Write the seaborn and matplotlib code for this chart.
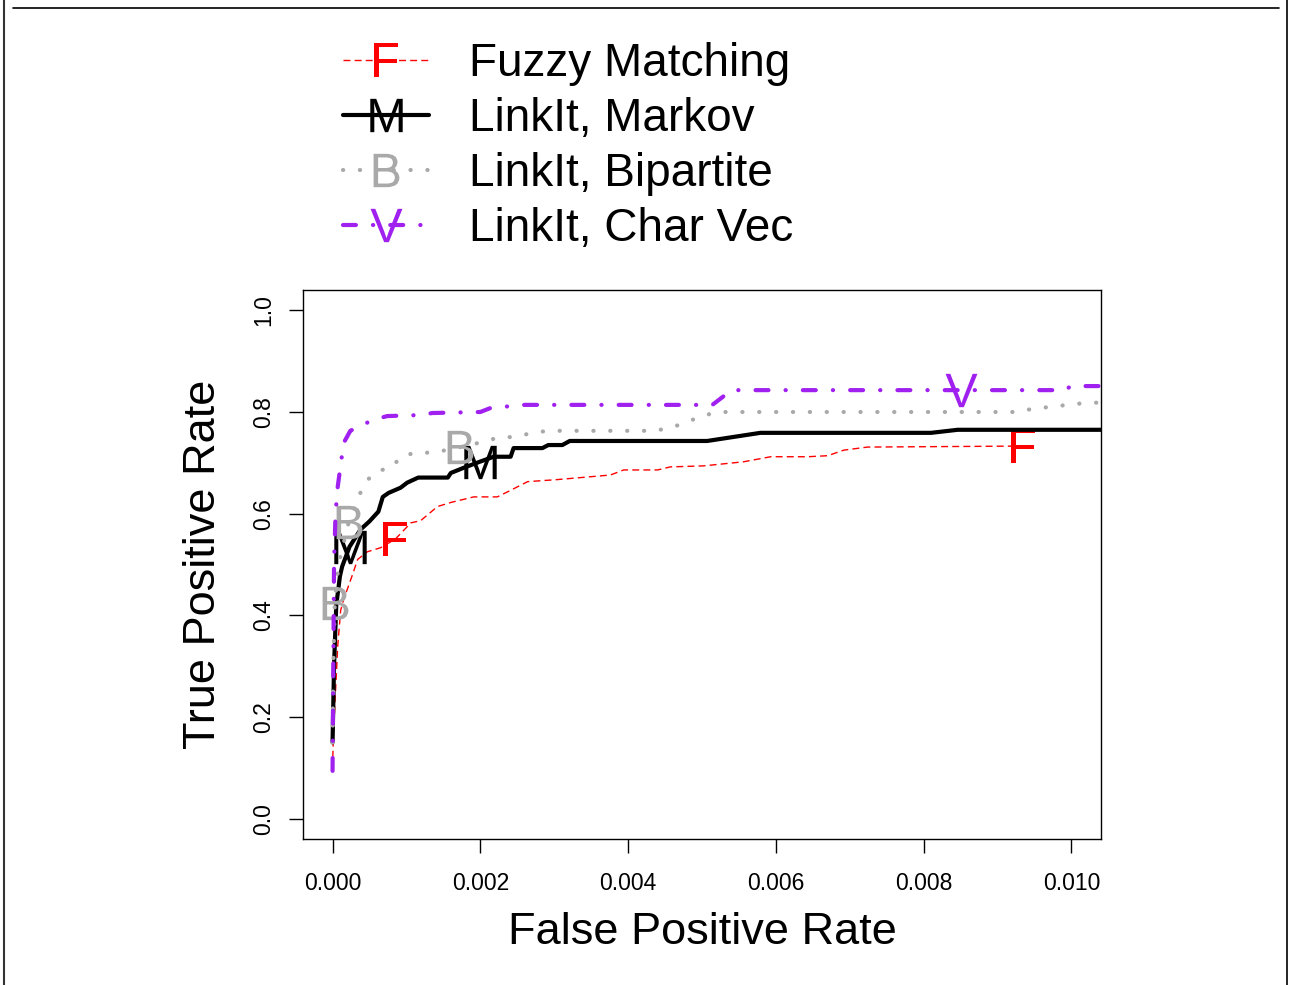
import matplotlib
matplotlib.use("Agg")
import matplotlib.pyplot as plt
from matplotlib.lines import Line2D
import pandas as pd
import seaborn as sns

# ROC curves (false positive rate, true positive rate)
fuzzy_fpr = [0.0, 0.00001, 0.00004, 0.00007, 0.00011, 0.00015, 0.00027, 0.00034, 0.00047, 0.00065,
             0.00085, 0.00106, 0.00119, 0.00142, 0.0016, 0.00191, 0.00223, 0.00237, 0.00264, 0.00304,
             0.00376, 0.00394, 0.0044, 0.00457, 0.00502, 0.00556, 0.00593, 0.00643, 0.0067, 0.00692,
             0.00724, 0.00934]
fuzzy_tpr = [0.098, 0.157, 0.25, 0.34, 0.41, 0.431, 0.48, 0.51, 0.525, 0.533,
             0.55, 0.582, 0.586, 0.614, 0.622, 0.633, 0.633, 0.643, 0.663, 0.667,
             0.676, 0.686, 0.686, 0.692, 0.694, 0.702, 0.712, 0.712, 0.714, 0.725,
             0.731, 0.733]
fuzzy_marks = [10, 31]

markov_fpr = [0.0, 0.00002, 0.00005, 0.0001, 0.00013, 0.00023, 0.00038, 0.0005, 0.00062, 0.00068,
              0.00076, 0.00092, 0.00101, 0.00116, 0.00156, 0.0016, 0.00177, 0.00199, 0.00218, 0.00241,
              0.00245, 0.00284, 0.00292, 0.00311, 0.00321, 0.00507, 0.00579, 0.0081, 0.00846, 0.011]
markov_tpr = [0.15, 0.3, 0.42, 0.477, 0.496, 0.535, 0.569, 0.585, 0.604, 0.633,
              0.641, 0.651, 0.661, 0.671, 0.671, 0.68, 0.69, 0.702, 0.712, 0.712,
              0.729, 0.729, 0.735, 0.735, 0.743, 0.743, 0.759, 0.759, 0.765, 0.765]
markov_marks = [5, 17]

bipartite_fpr = [0.0, 0.00001, 0.00003, 0.00008, 0.00022, 0.00035, 0.00045, 0.0006, 0.0008, 0.00092,
                 0.00112, 0.00137, 0.00173, 0.00203, 0.00225, 0.00248, 0.0027, 0.00292, 0.00434, 0.00456,
                 0.00479, 0.005, 0.00521, 0.00923, 0.00947, 0.00971, 0.00995, 0.0102, 0.011]
bipartite_tpr = [0.15, 0.3, 0.425, 0.5, 0.584, 0.633, 0.663, 0.684, 0.69, 0.712,
                 0.72, 0.72, 0.731, 0.741, 0.75, 0.751, 0.759, 0.763, 0.763, 0.768,
                 0.78, 0.792, 0.8, 0.8, 0.806, 0.81, 0.814, 0.818, 0.82]
bipartite_marks = [2, 4, 12]

charvec_fpr = [0.0, 0.00001, 0.00002, 0.00004, 0.00007, 0.00015, 0.00024, 0.00054, 0.00074, 0.0012,
               0.00135, 0.002, 0.00214, 0.0026, 0.00514, 0.0054, 0.0085, 0.0099, 0.0100, 0.011]
charvec_tpr = [0.094, 0.3, 0.5, 0.6, 0.653, 0.739, 0.763, 0.784, 0.792, 0.794,
               0.798, 0.8, 0.808, 0.814, 0.814, 0.843, 0.843, 0.843, 0.851, 0.851]
charvec_marks = [16]

labels = ["Fuzzy Matching", "LinkIt, Markov", "LinkIt, Bipartite", "LinkIt, Char Vec"]
letters = ["F", "M", "B", "V"]
colors = ["#FF0000", "#000000", "#A9A9A9", "#A020F0"]

x_ticks = [0.0, 0.002, 0.004, 0.006, 0.008, 0.010]
y_ticks = [0.0, 0.2, 0.4, 0.6, 0.8, 1.0]

sns.set_style("ticks")
plt.rcParams["font.family"] = ["Liberation Sans", "DejaVu Sans"]
plt.rcParams["mathtext.fontset"] = "custom"
plt.rcParams["mathtext.rm"] = "Liberation Sans"
plt.rcParams["text.color"] = "black"
plt.rcParams["axes.labelcolor"] = "black"

series = [
    (fuzzy_fpr, fuzzy_tpr, fuzzy_marks, dict(lw=1.0, dashes=(5, 3), dash_capstyle="butt")),
    (markov_fpr, markov_tpr, markov_marks, dict(lw=3.0, linestyle="-")),
    (bipartite_fpr, bipartite_tpr, bipartite_marks, dict(lw=3.0, dashes=(0.05, 4), dash_capstyle="round")),
    (charvec_fpr, charvec_tpr, charvec_marks, dict(lw=3.0, dashes=(3.1, 4.1, 0.05, 4.1), dash_capstyle="round")),
]

fig = plt.figure(figsize=(12.89, 9.85), dpi=100)
ax = fig.add_axes([303 / 1289, 1 - 839 / 985, 798 / 1289, 549 / 985])

for (fpr, tpr, marks, style), letter, color in zip(series, letters, colors):
    df = pd.DataFrame({"fpr": fpr, "tpr": tpr})
    sns.lineplot(data=df, x="fpr", y="tpr", ax=ax, sort=False, estimator=None,
                 color=color, marker=r"$\mathrm{%s}$" % letter, markersize=24,
                 markevery=marks, markeredgewidth=0, markerfacecolor=color,
                 markeredgecolor=color, legend=False, **style)

ax.set_xlim(-0.0004, 0.0104)
ax.set_ylim(-0.04, 1.04)
ax.set_xticks(x_ticks)
ax.set_xticklabels([f"{v:.3f}" for v in x_ticks])
ax.set_yticks(y_ticks)
ax.set_yticklabels([f"{v:.1f}" for v in y_ticks], rotation=90, va="center")
ax.tick_params(direction="out", length=10, width=1, labelsize=16.5, colors="black")
ax.tick_params(axis="x", pad=14)
ax.tick_params(axis="y", pad=10)
for sp in ax.spines.values():
    sp.set_visible(True)
    sp.set_color("black")
    sp.set_linewidth(1)
ax.set_xlabel("False Positive Rate", fontsize=32.5, labelpad=12)
ax.set_ylabel("True Positive Rate", fontsize=32.5, labelpad=20.5)

ax.legend(ax.lines, labels, loc="upper left", bbox_to_anchor=(343 / 1289, 1 - 42 / 985),
          bbox_transform=fig.transFigure, frameon=False, fontsize=33, numpoints=1,
          handlelength=1.87, handletextpad=0.88, labelspacing=0.24, borderpad=0, borderaxespad=0,
          labelcolor="black")

# partial page frame visible in the reference
fig.add_artist(Line2D([4 / 1289, 4 / 1289], [0, 1], color="#333333", lw=1.5))
fig.add_artist(Line2D([1287 / 1289, 1287 / 1289], [0, 1], color="black", lw=1.2))
fig.add_artist(Line2D([13 / 1289, 1279 / 1289], [1 - 8 / 985, 1 - 8 / 985], color="black", lw=1.2))

fig.savefig("out.png", dpi=100)
